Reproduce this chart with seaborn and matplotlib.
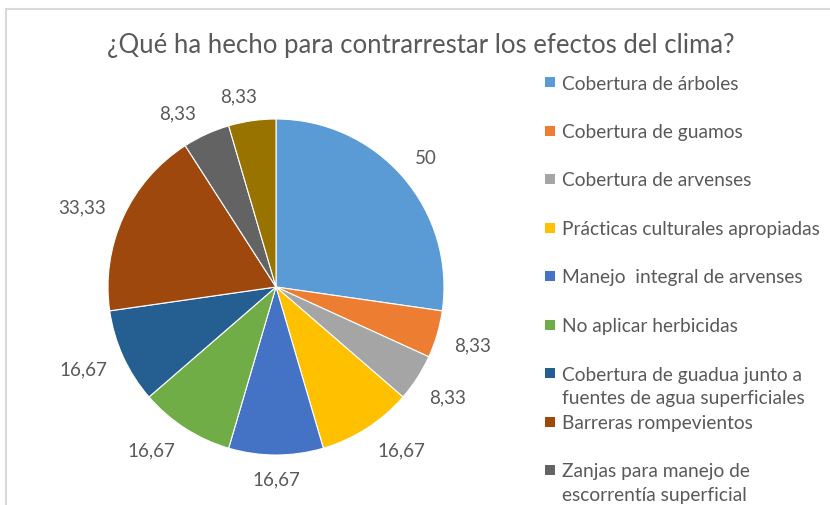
import numpy as np
import matplotlib
matplotlib.use("Agg")
import matplotlib.pyplot as plt
from matplotlib.patches import Rectangle
import seaborn as sns

# data
categories = [
    "Cobertura de árboles",
    "Cobertura de guamos",
    "Cobertura de arvenses",
    "Prácticas culturales apropiadas",
    "Manejo  integral de arvenses",
    "No aplicar herbicidas",
    "Cobertura de guadua junto a\nfuentes de agua superficiales",
    "Barreras rompevientos",
    "Zanjas para manejo de\nescorrentía superficial",
    "Otro",
]
values = [50, 8.33, 8.33, 16.67, 16.67, 16.67, 16.67, 33.33, 8.33, 8.33]
colors = ["#5B9BD5", "#ED7D31", "#A5A5A5", "#FFC000", "#4472C4",
          "#70AD47", "#255E91", "#9E480E", "#636363", "#997300"]
n_legend = 9  # the last entry is cut off in the original

sns.set_theme(style="white")
plt.rcParams["font.family"] = ["Lato", "DejaVu Sans"]
palette = sns.color_palette(colors)
txt_color = "#595959"

fig = plt.figure(figsize=(8.30, 5.06), dpi=100)

# chart area border (runs off the right/bottom edge)
fig.patches.append(Rectangle((6 / 830, -0.1), 1.2, 1 - 10 / 506 + 0.1,
                             transform=fig.transFigure, fill=False,
                             edgecolor="#D9D9D9", linewidth=1.5))

cx, cy, r = 276, 288, 168
ax = fig.add_axes([(cx - r) / 830, (506 - cy - r) / 506, 2 * r / 830, 2 * r / 506])
wedges, _ = ax.pie(values, colors=palette, startangle=90, counterclock=False,
                   wedgeprops=dict(linewidth=0.8, edgecolor="white"))
ax.set_xlim(-1, 1)
ax.set_ylim(-1, 1)
ax.set_aspect("auto")
ax.axis("off")

# data labels outside each slice, nearest edge a fixed gap from the rim;
# small angular nudges (deg, clockwise) like Excel's best-fit spreading
nudge = [0, 0, 0, -4.8, 0, 4.8, 1.5, -2.2, -5.1, -2.8]
renderer = fig.canvas.get_renderer()
gap = 17
for w, v, nd in zip(wedges, values, nudge):
    ang = np.deg2rad((w.theta1 + w.theta2) / 2 - nd)
    s = f"{v:g}".replace(".", ",")
    t = ax.text(0, 0, s, ha="center", va="center", fontsize=13.5, color=txt_color)
    bb = t.get_window_extent(renderer)
    half = abs(np.cos(ang)) * bb.width / 2 + abs(np.sin(ang)) * bb.height * 0.4
    d = (r + gap + half) / r
    t.set_position((d * np.cos(ang), d * np.sin(ang)))

fig.text(421 / 830, 1 - 45 / 506, "¿Qué ha hecho para contrarrestar los efectos del clima?",
         ha="center", va="center", fontsize=18.5, color=txt_color)

# legend: equal slots, marker aligned with first line
x0, y0, slot = 545, 83, 48.5
for i in range(n_legend):
    y = y0 + i * slot
    fig.patches.append(Rectangle((x0 / 830, 1 - (y + 5) / 506), 10 / 830, 10 / 506,
                                 transform=fig.transFigure, facecolor=palette[i],
                                 edgecolor="none"))
    fig.text(562 / 830, 1 - (y - 7.5) / 506, categories[i], ha="left", va="top",
             fontsize=13.8, color=txt_color, linespacing=1.45)

fig.savefig("out.png", dpi=100)
